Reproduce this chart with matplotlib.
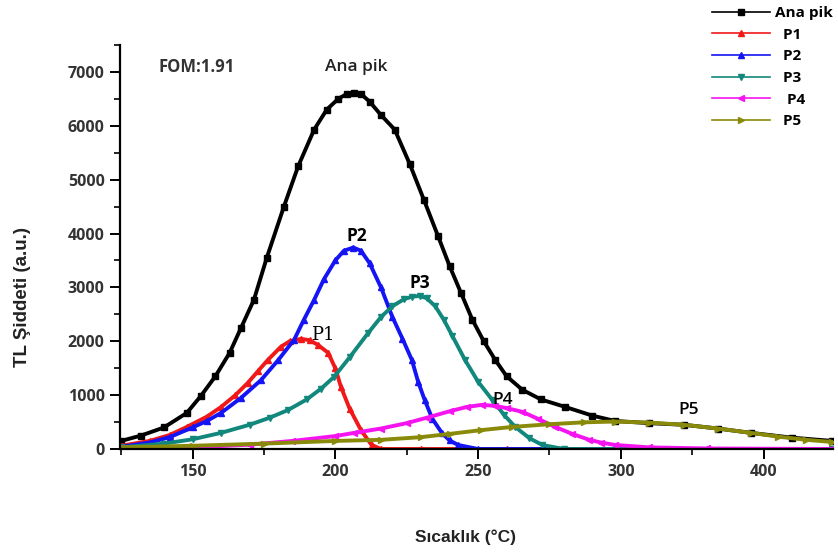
import matplotlib
matplotlib.use("Agg")
import matplotlib.pyplot as plt
from matplotlib.ticker import MultipleLocator

# Ana pik (toplam egri)
ana_T = [125, 132, 140, 148, 153, 158, 163, 167, 171.5, 176, 182, 187, 192.6, 197, 201, 204, 206.7,
         209, 212, 216, 220.8, 226, 231, 236, 240, 244, 248, 252, 256, 260, 265.5, 272, 280.6, 290,
         298, 310, 322, 334, 345.5, 360, 374]
ana_I = [150, 250, 400, 670, 990, 1350, 1785, 2250, 2770, 3550, 4500, 5250, 5930, 6300, 6500, 6590, 6610,
         6590, 6450, 6200, 5930, 5300, 4630, 3950, 3400, 2900, 2400, 2000, 1655, 1350, 1100, 920, 780, 620,
         520, 480, 450, 380, 300, 210, 150]

p1_T = [125, 135, 142, 148, 155, 160, 165, 169.4, 173, 176.4, 181, 184, 188, 191, 194, 197.5, 200, 202,
        205, 209, 212.7, 216, 230, 260, 300, 374]
p1_I = [60, 150, 260, 410, 600, 780, 1000, 1230, 1450, 1655, 1900, 2000, 2045, 2020, 1930, 1785, 1500, 1150,
        750, 350, 75, 0, 0, 0, 0, 0]

p2_T = [125, 135, 142, 150, 155, 160, 167, 174, 180, 185.6, 189, 192.6, 196, 200, 203, 206.3, 209, 212,
        216, 220, 223.5, 226.8, 229, 231.3, 234, 237.3, 240, 243, 250, 300, 374]
p2_I = [40, 120, 220, 400, 520, 670, 950, 1280, 1650, 2030, 2400, 2770, 3150, 3500, 3680, 3740, 3680, 3450,
        3000, 2450, 2050, 1655, 1250, 910, 560, 300, 160, 75, 0, 0, 0]

p3_T = [125, 140, 150, 160, 170, 177, 183.5, 190, 195, 199.6, 205, 211.6, 216, 220, 224, 227, 229.6, 232,
        235, 238, 241, 245.4, 250, 255, 259, 263, 268, 272.5, 280, 300, 374]
p3_I = [30, 100, 180, 300, 450, 580, 725, 920, 1120, 1340, 1700, 2160, 2450, 2650, 2780, 2830, 2840, 2800,
        2650, 2400, 2100, 1655, 1250, 910, 640, 410, 200, 75, 0, 0, 0]

p4_T = [125, 150, 170, 185, 200, 206.7, 216, 225, 232, 240, 246, 251.4, 256, 260, 265.5, 271, 277, 283,
        289, 293, 298, 310, 330, 374]
p4_I = [10, 30, 80, 150, 240, 300, 380, 480, 580, 700, 780, 820, 800, 760, 690, 560, 410, 280,
        170, 120, 75, 30, 10, 0]

p5_T = [125, 150, 175, 200, 216, 230, 240, 251, 262, 275, 287, 298, 310, 322, 334, 345.5, 355, 365, 374]
p5_I = [30, 60, 100, 150, 170, 220, 280, 350, 410, 460, 495, 510, 490, 450, 380, 300, 230, 170, 130]

x_ticks = [150, 200, 250, 300, 350]
x_tick_labels = ["150", "200", "250", "300", "400"]
y_ticks = [0, 1000, 2000, 3000, 4000, 5000, 6000, 7000]

fig = plt.figure(figsize=(8.38, 5.59), dpi=100)
ax = fig.add_axes([120 / 838, 110 / 559, 713 / 838, 404 / 559])

series = [
    (ana_T, ana_I, "black", "s", "Ana pik"),
    (p1_T, p1_I, "#f01818", "^", "  P1"),
    (p2_T, p2_I, "#1414f5", "^", "  P2"),
    (p3_T, p3_I, "#12877c", "v", "  P3"),
    (p4_T, p4_I, "#f514f0", "<", "   P4"),
    (p5_T, p5_I, "#8a8a0a", ">", "  P5"),
]
for t, i, c, m, lab in series:
    ax.plot(t, i, color=c, lw=2.8, marker=m, ms=4, label=lab)

ax.set_xlim(124.6, 374.3)
ax.set_ylim(0, 7500)
ax.set_xticks(x_ticks)
ax.set_xticklabels(x_tick_labels)
ax.set_yticks(y_ticks)
ax.xaxis.set_minor_locator(MultipleLocator(25))
ax.yaxis.set_minor_locator(MultipleLocator(500))

for s in ["top", "right"]:
    ax.spines[s].set_visible(False)
for s in ["left", "bottom"]:
    ax.spines[s].set_linewidth(1.6)

ax.tick_params(which="major", length=7, width=1.4, pad=4)
ax.tick_params(which="minor", length=4, width=1.2)
for lbl in ax.get_xticklabels() + ax.get_yticklabels():
    lbl.set_fontfamily("Open Sans")
    lbl.set_fontweight("bold")
    lbl.set_fontsize(11.5)
    lbl.set_color("#333333")

ax.set_ylabel("TL Şiddeti (a.u.)", fontfamily="Liberation Sans", fontweight="bold", fontsize=13.5,
              color="#222222")
ax.yaxis.set_label_coords(-0.125, 0.376)
ax.set_xlabel("Sıcaklık (°C)", fontfamily="Liberation Sans", fontweight="bold", fontsize=12.5,
              color="#222222")
ax.xaxis.set_label_coords(0.485, -0.2)

ax.text(138, 7100, "FOM:1.91", fontfamily="Open Sans", fontweight="bold", fontsize=12, va="center",
        color="#333333")
ax.text(207.4, 7090, "Ana pik", fontfamily="Open Sans", fontweight="semibold", fontsize=12.5,
        ha="center", va="center", color="#222222")
ax.text(191.5, 2120, "P1", fontfamily="DejaVu Serif", fontsize=13, va="center")
ax.text(207.4, 3950, "P2", fontfamily="Open Sans", fontweight="bold", fontsize=12.5, ha="center", va="center")
ax.text(229.6, 3090, "P3", fontfamily="Open Sans", fontweight="bold", fontsize=12.5, ha="center", va="center")
ax.text(258.5, 910, "P4", fontfamily="Open Sans", fontweight="semibold", fontsize=12.5, ha="center", va="center")
ax.text(323.6, 725, "P5", fontfamily="Open Sans", fontweight="semibold", fontsize=12.5, ha="center", va="center")

leg = fig.legend(loc="upper left", bbox_to_anchor=(712 / 838, 1 - 6 / 559), frameon=False,
                 borderpad=0, borderaxespad=0, handlelength=3.8, handletextpad=0.3, labelspacing=0.5,
                 prop={"family": "Open Sans", "weight": "bold", "size": 11}, markerscale=1.1)
for ln in leg.get_lines():
    ln.set_linewidth(1.2)

fig.savefig("out.png", dpi=100)
